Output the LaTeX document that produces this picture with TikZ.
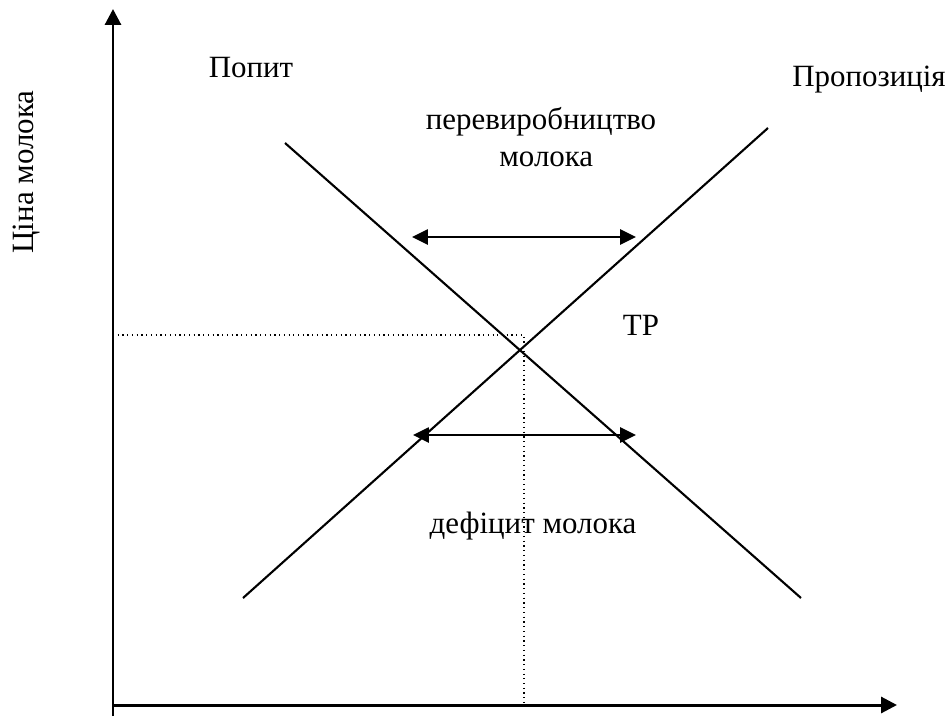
\documentclass[tikz,border=0pt]{standalone}
\usepackage{fontspec}
\setmainfont{Liberation Serif}
\usepackage{tikz}
\usetikzlibrary{arrows.meta}
\usetikzlibrary{positioning}
\tikzstyle{pt}=[inner sep=0pt,minimum size=0pt]
\tikzstyle{axis} = [draw,line width=1.7pt,-{Triangle[length=9pt,width=9pt]}]
\tikzstyle{curve} = [draw,line width=1.2pt]
\tikzstyle{gap} = [draw,line width=1.3pt,{Triangle[length=9pt,width=8.5pt]}-{Triangle[length=9pt,width=8.5pt]}]
\tikzstyle{guide} = [draw,line width=0.7pt,dotted]
\tikzstyle{lbl} = [font=\fontsize{17.6}{21}\selectfont,inner sep=0pt,anchor=base]
\tikzset{nd/.style={align=center}}

\begin{document}
\begin{tikzpicture}[x=0.02cm,y=-0.02cm]

 \useasboundingbox (0,0) rectangle (949,716);

 %axes
   \foreach \x/\y/\name in {113/716/O, 113/9/Ytop, 113/705/Xleft, 897/705/Xright}
          \node[pt] (\name) at (\x,\y) {};

 \path[axis] (O.center) -- (Ytop.center);
 \path[axis] (Xleft.center) -- (Xright.center);

 %demand and supply
   \foreach \x/\y/\name in {285/143/D1, 801/598/D2, 243/598/S1, 768/128/S2}
          \node[pt] (\name) at (\x,\y) {};

  \foreach \source/ \dest in {D1/D2, S1/S2}
         \path[curve] (\source.center) -- (\dest.center);

 %equilibrium guides
   \foreach \x/\y/\name in {113/335/P0, 524/335/E, 524/705/Q0}
          \node[pt] (\name) at (\x,\y) {};

 \path[guide] (P0.center) -- (E.center) -- (Q0.center);

 %surplus and shortage
   \foreach \x/\y/\name in {412/237/U1, 636/237/U2, 413/435/L1, 636/435/L2}
          \node[pt] (\name) at (\x,\y) {};

  \foreach \source/ \dest in {U1/U2, L1/L2}
         \path[gap] (\source.center) -- (\dest.center);

 %labels
 \node[lbl] (demand) at (251,78) {Попит};
 \node[lbl] (supply) at (869,87) {Пропозиція};
 \node[lbl,nd,anchor=north] (surplus) at (541,107) {перевиробництво\\\hspace*{6pt}молока};
 \node[lbl] (tp) at (641,335) {ТР};
 \node[lbl] (shortage) at (533,533) {дефіцит молока};
 \node[lbl,rotate=90] (price) at (33,172) {Ціна молока};

\end{tikzpicture}
\end{document}
